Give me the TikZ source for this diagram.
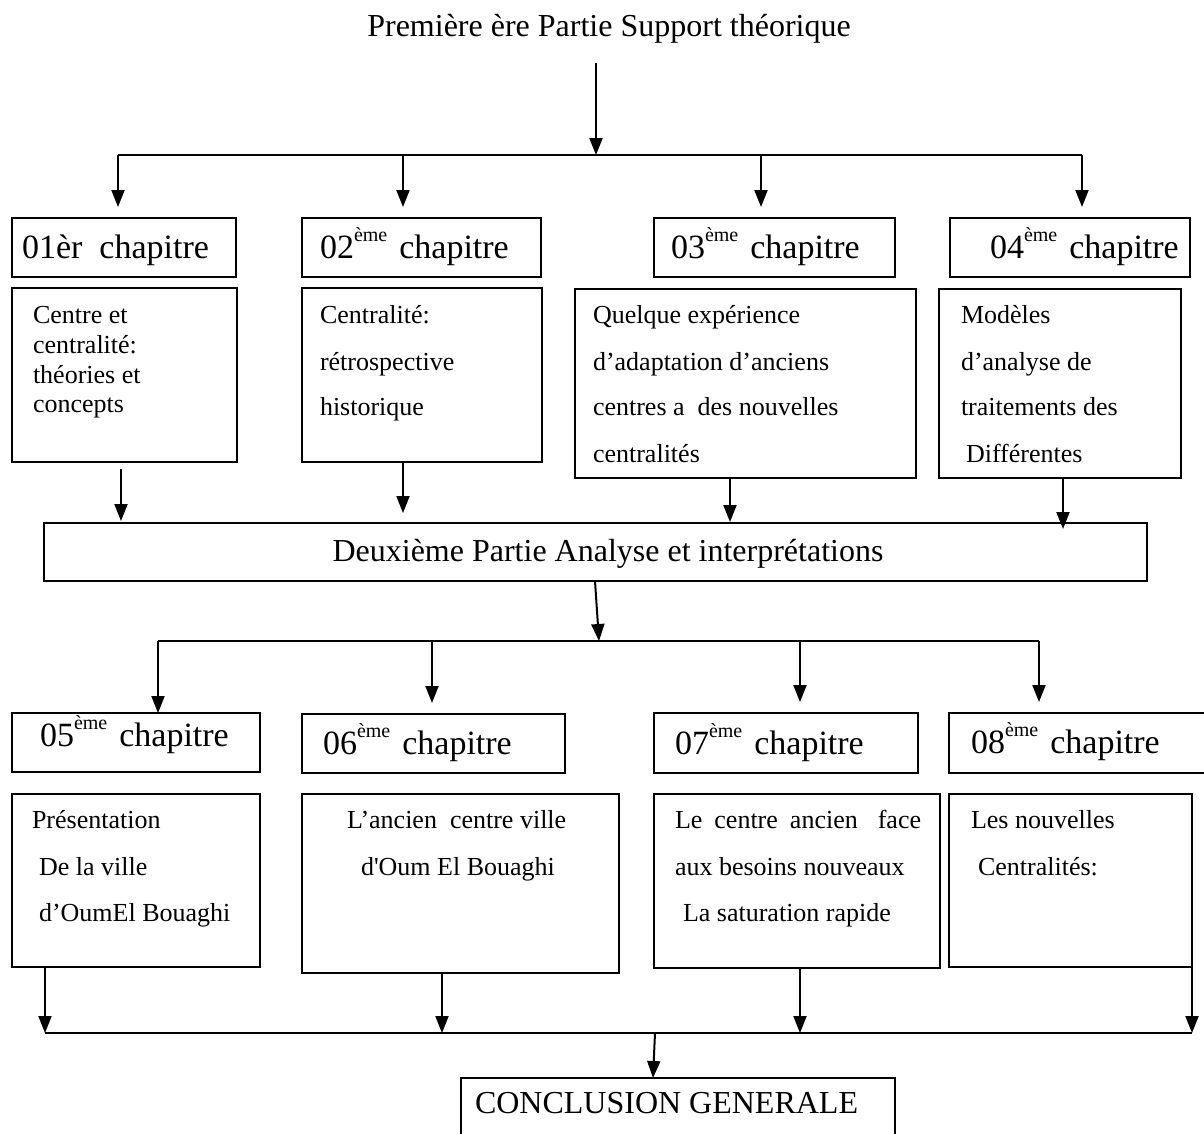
\documentclass[tikz,border=0pt]{standalone}
\usepackage{fontspec}
\setmainfont{Liberation Serif}[Ligatures=TeXOff]
\usetikzlibrary{arrows.meta}
\newcommand\ordsup[1]{\raisebox{17pt}{\fontsize{20}{20}\selectfont #1}}
\newcommand\bx[5]{\node[box, minimum width={(#4-#2)*1pt}, minimum height={(#5-#3)*1pt}] (#1) at (#2,#3) {};}
\tikzset{
  box/.style={draw, line width=2pt, inner sep=0pt, outer sep=0pt, anchor=north west},
  lbl/.style={anchor=base west, inner sep=0pt, outer sep=0pt},
  body/.style={lbl, font=\fontsize{26}{30}\selectfont},
  chap/.style={lbl, font=\fontsize{34}{40}\selectfont},
  big/.style={inner sep=0pt, outer sep=0pt, font=\fontsize{32}{38}\selectfont},
  ln/.style={line width=2pt},
  arr/.style={line width=2pt, -{Triangle[length=17pt,width=13pt]}},
}
\begin{document}
\begin{tikzpicture}[x=1pt,y=-1pt]
\fill[white] (0,0) rectangle (1204,1133);
\useasboundingbox (0,0) rectangle (1204,1133);

% ---------- title ----------
\node[big, anchor=base] (title) at (609,36) {Première ère Partie Support théorique};
\coordinate (j0) at (596,155);
\coordinate (jl) at (118,155);
\coordinate (jr) at (1082,155);
\coordinate (ja2) at (403,155);
\coordinate (ja3) at (761,155);
\draw[arr] (title.south -| j0) ++(0,20) -- (j0);
\draw[ln] (jl) -- (jr);

% ---------- row 1 chapter boxes ----------
\bx{b1}{12}{218}{236}{277}
\bx{b2}{302}{218}{541}{277}
\bx{b3}{654}{218}{895}{277}
\bx{b4}{950}{218}{1190}{277}
\node[chap] (tb1) at (22,258) {01èr\hspace{17pt}chapitre};
\node[chap] (tb2) at (320,258) {02\ordsup{ème}\hspace{12pt}chapitre};
\node[chap] (tb3) at (671,258) {03\ordsup{ème}\hspace{12pt}chapitre};
\node[chap] (tb4) at (990,258) {04\ordsup{ème}\hspace{12pt}chapitre};
\draw[arr, shorten >=11pt] (jl) -- (jl |- b1.north);
\draw[arr, shorten >=11pt] (ja2) -- (ja2 |- b2.north);
\draw[arr, shorten >=11pt] (ja3) -- (ja3 |- b3.north);
\draw[arr, shorten >=11pt] (jr) -- (jr |- b4.north);

% ---------- row 1 content boxes ----------
\bx{c1}{12}{288}{237}{462}
\bx{c2}{302}{288}{542}{462}
\bx{c3}{575}{289}{916}{478}
\bx{c4}{939}{289}{1181}{478}
\node[body] (tc1a) at (33,323) {Centre et};
\node[body] (tc1b) at (33,353) {centralité:};
\node[body] (tc1c) at (33,383) {théories et};
\node[body] (tc1d) at (33,412) {concepts};
\node[body] (tc2a) at (320,323) {Centralité:};
\node[body] (tc2b) at (320,370) {rétrospective};
\node[body] (tc2c) at (320,415) {historique};
\node[body] (tc3a) at (593,323) {Quelque expérience};
\node[body] (tc3b) at (593,370) {d’adaptation d’anciens};
\node[body] (tc3c) at (593,415) {centres a\hspace{13pt}des nouvelles};
\node[body] (tc3d) at (593,462) {centralités};
\node[body] (tc4a) at (961,323) {Modèles};
\node[body] (tc4b) at (961,370) {d’analyse de};
\node[body] (tc4c) at (961,415) {traitements des};
\node[body] (tc4d) at (966,462) {Différentes};

% ---------- Deuxième partie ----------
\bx{d}{44}{523}{1147}{581}
\node[big, anchor=base] (dt) at (608,561) {Deuxième Partie Analyse et interprétations};
\coordinate (k1) at (121,0);
\coordinate (k2) at (403,0);
\coordinate (k3) at (730,0);
\coordinate (k4) at (1063,0);
\draw[arr, shorten <=7pt, shorten >=2pt] (k1 |- c1.south) -- (k1 |- d.north);
\draw[arr, shorten >=10pt] (k2 |- c2.south) -- (k2 |- d.north);
\draw[arr, shorten >=1pt] (k3 |- c3.south) -- (k3 |- d.north);
\draw[arr, shorten >=-6pt] (k4 |- c4.south) -- (k4 |- d.north);

\coordinate (j2) at (599,641);
\coordinate (j2l) at (158,641);
\coordinate (j2r) at (1039,641);
\coordinate (j2b) at (432,641);
\coordinate (j2c) at (800,641);
\draw[arr] ([xshift=-0.5pt]d.south) -- (j2);
\draw[ln] (j2l) -- (j2r);

% ---------- row 2 chapter boxes ----------
\bx{b5}{12}{713}{260}{772}
\bx{b6}{302}{714}{565}{773}
\bx{b7}{654}{713}{918}{773}
\bx{b8}{949}{713}{1215}{773}
\node[chap] (tb5) at (40,746) {05\ordsup{ème}\hspace{12pt}chapitre};
\node[chap] (tb6) at (323,754) {06\ordsup{ème}\hspace{12pt}chapitre};
\node[chap] (tb7) at (675,754) {07\ordsup{ème}\hspace{12pt}chapitre};
\node[chap] (tb8) at (971,753) {08\ordsup{ème}\hspace{12pt}chapitre};
\draw[arr] (j2l) -- (j2l |- b5.north);
\draw[arr, shorten >=11pt] (j2b) -- (j2b |- b6.north);
\draw[arr, shorten >=11pt] (j2c) -- (j2c |- b7.north);
\draw[arr, shorten >=11pt] (j2r) -- (j2r |- b8.north);

% ---------- row 2 content boxes ----------
\bx{c5}{12}{794}{260}{967}
\bx{c6}{302}{794}{619}{973}
\bx{c7}{654}{794}{940}{968}
\bx{c8}{949}{794}{1192}{967}
\node[body] (tc5a) at (32,828) {Présentation};
\node[body] (tc5b) at (39,875) {De la ville};
\node[body] (tc5c) at (39,921) {d’OumEl Bouaghi};
\node[body] (tc6a) at (347,828) {L’ancien\hspace{13pt}centre ville};
\node[body] (tc6b) at (361,875) {d'Oum El Bouaghi};
\node[body] (tc7a) at (675,828) {Le\hspace{12pt}centre\hspace{12pt}ancien\hspace{20pt}face};
\node[body] (tc7b) at (675,875) {aux besoins nouveaux};
\node[body] (tc7c) at (683,921) {La saturation rapide};
\node[body] (tc8a) at (971,828) {Les nouvelles};
\node[body] (tc8b) at (978,875) {Centralités:};

% ---------- bottom collector ----------
\coordinate (m1) at (45,1033);
\coordinate (m2) at (442,1033);
\coordinate (m3) at (800,1033);
\coordinate (m4) at (1192,1033);
\coordinate (m0) at (655,1033);
\draw[arr] (c5.south -| m1) -- (m1);
\draw[arr] (c6.south -| m2) -- (m2);
\draw[arr] (c7.south -| m3) -- (m3);
\draw[arr] (c8.south east) -- (m4);
\draw[ln] (m1) -- (m4);

% ---------- conclusion ----------
\bx{cc}{461}{1078}{895}{1160}
\node[big, anchor=base west] (cct) at (475,1113) {CONCLUSION GENERALE};
\draw[arr] (m0) -- ([xshift=-25pt]cc.north);
\end{tikzpicture}
\end{document}
